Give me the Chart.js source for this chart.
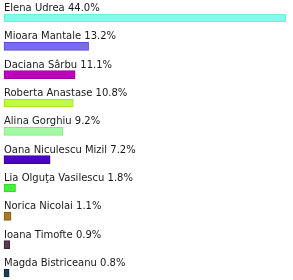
<!DOCTYPE html>
<html>
<head>
<meta charset="utf-8">
<script src="https://cdn.jsdelivr.net/npm/chart.js@4"></script>
<style>
  html,body{margin:0;padding:0;background:#fff;overflow:hidden;}
  #wrap{width:293px;height:280px;position:relative;}
</style>
</head>
<body>
<div id="wrap"><canvas id="pollChart"></canvas></div>
<script>
// candidates and their share
const candidates = ['Elena Udrea','Mioara Mantale','Daciana Sârbu','Roberta Anastase','Alina Gorghiu',
  'Oana Niculescu Mizil','Lia Olguţa Vasilescu','Norica Nicolai','Ioana Timofte','Magda Bistriceanu'];
const shares = [44.0, 13.2, 11.1, 10.8, 9.2, 7.2, 1.8, 1.1, 0.9, 0.8];
const fillColors = ['#80fdea','#7b6bf0','#be00c0','#c0fb3c','#a2fba2','#4a05c4','#45f03a','#a8782a','#5a3c4c','#1e3e4e'];
const edgeColors = ['#6ee8d6','#5a4ad6','#9a009c','#a4de28','#88e488','#3a009c','#30d028','#8a5e18','#3e2632','#0e2a38'];

// label above each bar: "name value%"
const barLabels = {
  id:'barLabels',
  afterDatasetsDraw(chart){
    const ctx = chart.ctx;
    const meta = chart.getDatasetMeta(0);
    ctx.save();
    ctx.font = '10px "DejaVu Sans", Verdana, sans-serif';
    ctx.fillStyle = '#1a1a1a';
    ctx.textBaseline = 'alphabetic';
    ctx.textAlign = 'left';
    meta.data.forEach((bar,i)=>{
      ctx.fillText(candidates[i]+' '+shares[i].toFixed(1)+'%', bar.base, bar.y - 7);
    });
    ctx.restore();
  }
};

new Chart(document.getElementById('pollChart'), {
  type:'bar',
  data:{
    labels: candidates,
    datasets:[{
      data: shares,
      backgroundColor: fillColors,
      borderColor: edgeColors,
      borderWidth: 1,
      borderSkipped: false,
      barThickness: 8,
      clip: false
    }]
  },
  options:{
    indexAxis:'y',
    responsive:true,
    maintainAspectRatio:false,
    animation:false,
    layout:{ padding:{ top:18, bottom:7, left:4, right:7 } },
    scales:{
      x:{ display:false, min:0, max:44 },
      y:{ display:false, offset:false }
    },
    plugins:{ legend:{display:false}, tooltip:{enabled:false} }
  },
  plugins:[barLabels]
});
</script>
</body>
</html>
